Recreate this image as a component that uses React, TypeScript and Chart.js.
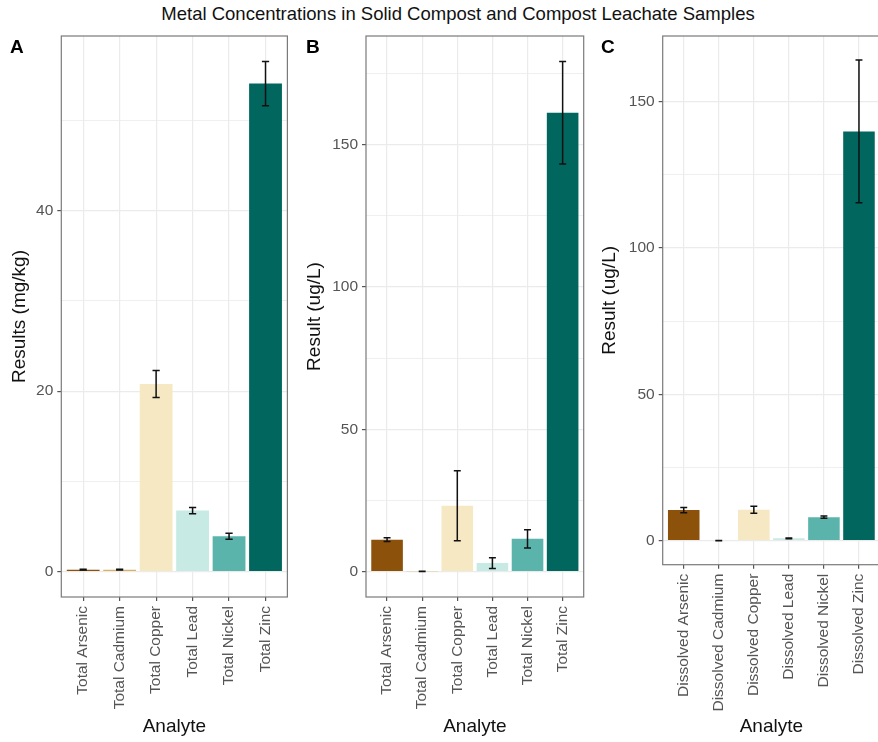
import React, { useEffect, useRef } from 'react';
import { Chart, registerables } from 'chart.js';

Chart.register(...registerables);

// ---------- data ----------
const analytesA = ['Total Arsenic', 'Total Cadmium', 'Total Copper', 'Total Lead', 'Total Nickel', 'Total Zinc'];
const valuesA = [0.2, 0.2, 20.8, 6.75, 3.9, 54.1];
const errorsA = [0.04, 0.04, 1.5, 0.35, 0.33, 2.45];
const yTicksA = [0, 10, 20, 30, 40, 50];
const yLabelsA = [0, 20, 40];

const analytesB = ['Total Arsenic', 'Total Cadmium', 'Total Copper', 'Total Lead', 'Total Nickel', 'Total Zinc'];
const valuesB = [11.2, 0.05, 23.1, 2.95, 11.5, 161.3];
const errorsB = [0.65, 0.05, 12.3, 1.9, 3.2, 18.0];
const yTicksB = [0, 25, 50, 75, 100, 125, 150, 175];
const yLabelsB = [0, 50, 100, 150];

const analytesC = ['Dissolved Arsenic', 'Dissolved Cadmium', 'Dissolved Copper', 'Dissolved Lead', 'Dissolved Nickel', 'Dissolved Zinc'];
const valuesC = [10.4, 0.0, 10.55, 0.75, 8.0, 139.9];
const errorsC = [0.9, 0.05, 1.2, 0.15, 0.4, 24.4];
const yTicksC = [0, 25, 50, 75, 100, 125, 150];
const yLabelsC = [0, 50, 100, 150];

const barColors = ['#8C510A', '#D8B365', '#F6E8C3', '#C7EAE5', '#5AB4AC', '#01665E'];

const mainTitle = 'Metal Concentrations in Solid Compost and Compost Leachate Samples';
const xTitle = 'Analyte';

// ---------- layout / style ----------
const FONT = '"Liberation Sans", Arial, Helvetica, sans-serif';
const W = 878;
const H = 742;

type PanelCfg = {
  tag: string;
  analytes: string[];
  values: number[];
  errors: number[];
  yTicks: number[];
  yLabels: number[];
  yTitle: string;
  left: number;
  width: number;
  axisWidth: number;
  padRight: number;
  xAxisHeight: number;
  tagX: number;
};

const panels: PanelCfg[] = [
  { tag: 'A', analytes: analytesA, values: valuesA, errors: errorsA, yTicks: yTicksA, yLabels: yLabelsA, yTitle: 'Results (mg/kg)', left: 0, width: 295, axisWidth: 61.3, padRight: 7.6, xAxisHeight: 145, tagX: 10 },
  { tag: 'B', analytes: analytesB, values: valuesB, errors: errorsB, yTicks: yTicksB, yLabels: yLabelsB, yTitle: 'Result (ug/L)', left: 295, width: 295, axisWidth: 71, padRight: 6.3, xAxisHeight: 145, tagX: 306 },
  { tag: 'C', analytes: analytesC, values: valuesC, errors: errorsC, yTicks: yTicksC, yLabels: yLabelsC, yTitle: 'Result (ug/L)', left: 590, width: 295, axisWidth: 72.7, padRight: 5, xAxisHeight: 177.3, tagX: 601 },
];

function makeErrorBars(errors: number[]) {
  return {
    id: 'errorBars',
    afterDatasetsDraw(chart: any) {
      const meta = chart.getDatasetMeta(0);
      const y = chart.scales.y;
      const ctx = chart.ctx;
      const data = chart.data.datasets[0].data as any[];
      ctx.save();
      ctx.strokeStyle = '#111';
      ctx.lineWidth = 1.5;
      meta.data.forEach((bar: any, i: number) => {
        const v = data[i].y;
        const top = y.getPixelForValue(v + errors[i]);
        const bot = y.getPixelForValue(v - errors[i]);
        const half = bar.width * 0.11;
        ctx.beginPath();
        ctx.moveTo(bar.x, top);
        ctx.lineTo(bar.x, bot);
        ctx.moveTo(bar.x - half, top);
        ctx.lineTo(bar.x + half, top);
        ctx.moveTo(bar.x - half, bot);
        ctx.lineTo(bar.x + half, bot);
        ctx.stroke();
      });
      ctx.restore();
    },
  };
}

const panelBorder = {
  id: 'panelBorder',
  afterDatasetsDraw(chart: any) {
    const { ctx, chartArea } = chart;
    ctx.save();
    ctx.strokeStyle = '#7a7a7a';
    ctx.lineWidth = 1.2;
    ctx.strokeRect(chartArea.left, chartArea.top, chartArea.right - chartArea.left, chartArea.bottom - chartArea.top);
    ctx.restore();
  },
};

function Panel({ cfg }: { cfg: PanelCfg }) {
  const ref = useRef<HTMLCanvasElement | null>(null);
  useEffect(() => {
    if (!ref.current) return;
    const lo = Math.min(0, ...cfg.values.map((v, i) => v - cfg.errors[i]));
    const hi = Math.max(...cfg.values.map((v, i) => v + cfg.errors[i]));
    const pad = (hi - lo) * 0.05;
    const n = cfg.analytes.length;
    const isMajor = (v: number) => cfg.yLabels.indexOf(v) >= 0;

    const chart = new Chart(ref.current, {
      type: 'bar',
      data: {
        datasets: [
          {
            data: cfg.values.map((v, i) => ({ x: i + 1, y: v })),
            backgroundColor: barColors,
            borderWidth: 0,
            categoryPercentage: 1,
            barPercentage: 0.9,
          },
        ],
      },
      options: {
        animation: false,
        responsive: false,
        devicePixelRatio: 1,
        layout: { padding: { top: 36, right: cfg.padRight, left: 0, bottom: 0 } },
        plugins: { legend: { display: false }, tooltip: { enabled: false }, title: { display: false } },
        scales: {
          x: {
            type: 'linear',
            min: 0.4,
            max: n + 0.6,
            offset: false,
            afterBuildTicks: (s: any) => {
              s.ticks = cfg.analytes.map((_, i) => ({ value: i + 1 }));
            },
            afterFit: (s: any) => {
              s.height = cfg.xAxisHeight;
            },
            ticks: {
              autoSkip: false,
              minRotation: 90,
              maxRotation: 90,
              padding: 5,
              color: '#555',
              font: { family: FONT, size: 15.5 },
              callback: (v: any) => cfg.analytes[Math.round(Number(v)) - 1] ?? '',
            },
            grid: {
              offset: false,
              color: '#ebebeb',
              lineWidth: 1.2,
              tickColor: '#555',
              tickWidth: 1.2,
              tickLength: 4,
            },
            border: { display: false },
            title: {
              display: true,
              text: xTitle,
              color: '#111',
              font: { family: FONT, size: 19 },
              padding: { top: 0, bottom: 4 },
            },
          },
          y: {
            type: 'linear',
            min: lo - pad,
            max: hi + pad,
            afterBuildTicks: (s: any) => {
              s.ticks = cfg.yTicks.map((v) => ({ value: v }));
            },
            afterFit: (s: any) => {
              s.width = cfg.axisWidth;
            },
            ticks: {
              padding: 4,
              color: '#555',
              font: { family: FONT, size: 15.5 },
              callback: (v: any) => (isMajor(Number(v)) ? String(v) : ''),
            },
            grid: {
              color: '#ebebeb',
              lineWidth: (c: any) => (isMajor(c.tick?.value) ? 1.2 : 0.8),
              tickColor: (c: any) => (isMajor(c.tick?.value) ? '#555' : 'rgba(0,0,0,0)'),
              tickWidth: 1.2,
              tickLength: 4,
            },
            border: { display: false },
            title: {
              display: true,
              text: cfg.yTitle,
              color: '#111',
              font: { family: FONT, size: 19 },
              padding: { top: 8, bottom: 0 },
            },
          },
        },
      },
      plugins: [makeErrorBars(cfg.errors), panelBorder],
    } as any);
    return () => chart.destroy();
  }, [cfg]);

  return (
    <>
      <canvas
        ref={ref}
        width={cfg.width}
        height={H}
        style={{ position: 'absolute', left: cfg.left, top: 0, width: cfg.width, height: H }}
      />
      <div
        style={{
          position: 'absolute',
          left: cfg.tagX,
          top: 35,
          fontFamily: FONT,
          fontWeight: 'bold',
          fontSize: 19,
          lineHeight: '24px',
          color: '#000',
        }}
      >
        {cfg.tag}
      </div>
    </>
  );
}

export default function App() {
  return (
    <div
      style={{
        position: 'absolute',
        left: 0,
        top: 0,
        width: W,
        height: H,
        overflow: 'hidden',
        background: '#fff',
      }}
    >
      <div
        style={{
          position: 'absolute',
          left: 458,
          top: 2,
          transform: 'translateX(-50%)',
          whiteSpace: 'nowrap',
          fontFamily: FONT,
          fontSize: 18.5,
          lineHeight: '24px',
          color: '#111',
        }}
      >
        {mainTitle}
      </div>
      {panels.map((p) => (
        <Panel key={p.tag} cfg={p} />
      ))}
    </div>
  );
}
